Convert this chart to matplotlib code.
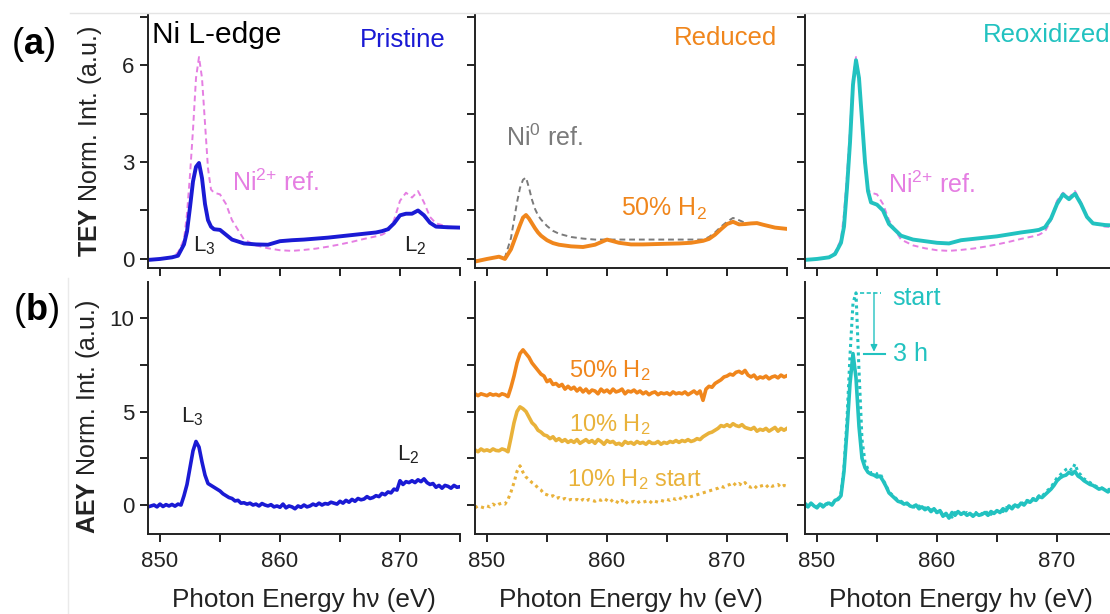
import numpy as np
import matplotlib
matplotlib.use("Agg")
import matplotlib.pyplot as plt
from matplotlib.ticker import MultipleLocator
from matplotlib.lines import Line2D

plt.rcParams["font.family"] = ["Liberation Sans", "DejaVu Sans"]
plt.rcParams["mathtext.fontset"] = "custom"
plt.rcParams["mathtext.rm"] = "Liberation Sans"
plt.rcParams["mathtext.it"] = "Liberation Sans:italic"
plt.rcParams["mathtext.bf"] = "Liberation Sans:bold"

# ---------------- TEY spectra (Ni L-edge) ----------------
energy_tey = [849.0, 850.0, 851.0, 851.5, 852.0, 852.25, 852.5, 852.75, 853.0, 853.25,
              853.5, 853.75, 854.0, 854.25, 854.5, 855.0, 855.5, 856.0, 857.0, 858.0,
              859.0, 860.0, 861.0, 862.0, 863.0, 864.0, 865.0, 866.0, 867.0, 868.0,
              868.5, 869.0, 869.5, 870.0, 870.5, 871.0, 871.5, 872.0, 872.5, 873.0,
              874.0, 875.0]

tey_pristine = [-0.03, 0.0, 0.05, 0.1, 0.45, 0.85, 1.6, 2.4, 2.85, 2.97,
                2.5, 1.7, 1.2, 1.0, 0.92, 0.9, 0.75, 0.6, 0.48, 0.45,
                0.44, 0.55, 0.58, 0.6, 0.63, 0.66, 0.7, 0.74, 0.78, 0.82,
                0.86, 0.92, 1.1, 1.35, 1.4, 1.4, 1.5, 1.35, 1.12, 1.0,
                0.98, 0.97]

tey_ni2_ref = [0.0, 0.0, 0.05, 0.2, 0.6, 1.4, 2.6, 4.0, 5.6, 6.25,
               5.6, 4.2, 2.8, 2.15, 2.05, 2.0, 1.7, 1.2, 0.6, 0.42,
               0.33, 0.27, 0.25, 0.28, 0.32, 0.38, 0.45, 0.53, 0.62, 0.7,
               0.75, 0.85, 1.2, 1.8, 2.05, 1.9, 2.1, 1.75, 1.3, 1.1,
               1.0, 0.98]

tey_reduced = [-0.08, 0.0, 0.07, 0.0, 0.3, 0.55, 0.8, 1.05, 1.28, 1.36,
               1.25, 1.1, 0.95, 0.82, 0.72, 0.58, 0.49, 0.44, 0.39, 0.37,
               0.44, 0.6, 0.5, 0.45, 0.45, 0.46, 0.47, 0.48, 0.5, 0.56,
               0.62, 0.75, 0.92, 1.08, 1.15, 1.07, 1.08, 1.1, 1.11, 1.06,
               0.97, 0.93]

tey_ni0_ref = [-0.05, 0.0, 0.07, 0.05, 0.65, 1.2, 1.75, 2.2, 2.45, 2.52,
               2.2, 1.83, 1.55, 1.35, 1.22, 1.02, 0.87, 0.78, 0.68, 0.63,
               0.6, 0.6, 0.6, 0.6, 0.6, 0.6, 0.6, 0.6, 0.6, 0.6,
               0.68, 0.82, 1.0, 1.15, 1.27, 1.2, 1.12, 1.1, 1.1, 1.05,
               0.97, 0.93]

tey_reoxidized = [-0.03, 0.0, 0.05, 0.15, 0.5, 1.0, 2.2, 3.6, 5.4, 6.15,
                  5.6, 4.3, 3.0, 2.1, 1.75, 1.68, 1.5, 1.08, 0.72, 0.6,
                  0.55, 0.5, 0.48, 0.58, 0.62, 0.66, 0.7, 0.76, 0.82, 0.87,
                  0.9, 0.98, 1.25, 1.7, 2.0, 1.85, 2.02, 1.7, 1.3, 1.1,
                  1.05, 1.03]

# ---------------- AEY spectra, 0.25 eV steps from 849 to 875 eV ----------------
energy_aey = np.arange(849.0, 875.001, 0.25)

aey_pristine = [
    -0.10, -0.05, 0.00, -0.10,   0.05, -0.08, 0.02, -0.05,   0.03, -0.06, 0.05, 0.00,
    0.50, 1.10, 2.00, 2.90,      3.40, 3.10, 2.30, 1.60,      1.15, 1.05, 0.95, 0.85,
    0.75, 0.60, 0.50, 0.40,      0.35, 0.22, 0.25, 0.10,      0.12, 0.05, 0.10, 0.00,
    0.05, -0.05, 0.08, 0.00,     -0.05, 0.02, -0.10, -0.05,   -0.12, 0.05, -0.15, -0.05,
    -0.10, -0.20, -0.05, -0.12,  0.00, -0.10, -0.05, 0.05,    -0.02, 0.10, 0.00, 0.08,
    0.05, 0.15, 0.10, 0.05,      0.20, 0.10, 0.25, 0.15,      0.30, 0.20, 0.35, 0.28,
    0.32, 0.45, 0.35, 0.40,      0.50, 0.45, 0.62, 0.55,      0.70, 0.65, 0.85, 0.80,
    1.30, 1.10, 1.25, 1.20,      1.30, 1.20, 1.35, 1.25,      1.40, 1.20, 1.10, 1.15,
    0.95, 1.05, 0.90, 1.05,      1.00, 0.90, 1.05, 0.95,      0.98]

aey_h2_50 = [
    5.95, 5.85, 5.95, 5.90,   5.85, 5.95, 5.88, 5.92,   5.85, 5.95, 5.90, 5.80,
    6.30, 6.90, 7.60, 8.10,   8.30, 8.10, 7.90, 7.60,   7.40, 7.20, 7.00, 6.90,
    6.60, 6.70, 6.45, 6.50,   6.35, 6.45, 6.20, 6.35,   6.20, 6.30, 6.10, 6.25,
    6.05, 6.20, 6.00, 6.15,   6.10, 5.95, 6.20, 6.05,   6.15, 6.00, 6.20, 6.05,
    6.10, 6.20, 5.95, 6.10,   6.05, 6.15, 6.00, 6.10,   5.95, 6.05, 5.90, 6.00,
    6.05, 5.90, 6.00, 5.95,   6.00, 5.90, 6.05, 5.95,   6.00, 5.95, 6.05, 5.90,
    6.00, 6.10, 5.95, 6.10,   5.60, 6.20, 6.35, 6.30,   6.50, 6.60, 6.70, 6.85,
    6.90, 7.00, 6.95, 7.10,   7.15, 7.05, 7.20, 6.95,   6.85, 6.95, 6.75, 6.85,
    6.80, 6.90, 6.75, 6.85,   6.90, 6.80, 6.95, 6.85,   6.92]

aey_h2_10 = [
    2.95, 2.85, 3.00, 2.90,   2.95, 2.88, 3.00, 2.92,   2.90, 3.00, 2.95, 2.85,
    3.60, 4.40, 5.00, 5.25,   5.15, 5.00, 4.70, 4.40,   4.25, 4.00, 3.90, 3.75,
    3.70, 3.55, 3.65, 3.45,   3.55, 3.40, 3.50, 3.35,   3.45, 3.35, 3.50, 3.30,
    3.40, 3.50, 3.35, 3.45,   3.30, 3.50, 3.40, 3.25,   3.45, 3.35, 3.40, 3.25,
    3.30, 3.20, 3.40, 3.30,   3.35, 3.25, 3.40, 3.30,   3.35, 3.25, 3.40, 3.30,
    3.30, 3.40, 3.25, 3.35,   3.30, 3.40, 3.35, 3.45,   3.35, 3.45, 3.40, 3.50,
    3.40, 3.45, 3.55, 3.50,   3.65, 3.75, 3.85, 3.90,   4.00, 4.10, 4.25, 4.20,
    4.30, 4.20, 4.35, 4.25,   4.20, 4.30, 4.15, 4.10,   4.05, 4.15, 3.95, 4.05,
    4.00, 4.10, 3.95, 4.05,   4.15, 3.95, 4.10, 4.00,   4.10]

aey_h2_10_start = [
    -0.15, -0.05, -0.10, -0.15,   -0.05, -0.10, 0.05, -0.05,   0.05, 0.10, 0.05, 0.30,
    0.70, 1.20, 1.80, 2.10,       1.75, 1.50, 1.35, 1.20,      1.10, 0.90, 0.80, 0.60,
    0.55, 0.45, 0.50, 0.35,       0.40, 0.30, 0.35, 0.25,      0.30, 0.25, 0.30, 0.20,
    0.30, 0.20, 0.30, 0.25,       0.20, 0.30, 0.25, 0.35,      0.25, 0.15, 0.30, 0.20,
    0.10, 0.25, 0.05, 0.20,       0.15, 0.20, 0.10, 0.20,      0.15, 0.20, 0.25, 0.10,
    0.20, 0.15, 0.25, 0.20,       0.30, 0.25, 0.35, 0.30,      0.40, 0.30, 0.45, 0.35,
    0.45, 0.50, 0.55, 0.60,       0.65, 0.70, 0.75, 0.80,      0.85, 0.90, 1.00, 0.95,
    1.05, 1.10, 1.20, 1.05,       1.15, 1.05, 1.20, 1.00,      0.95, 1.05, 0.90, 1.00,
    1.05, 0.95, 1.10, 1.00,       1.05, 1.10, 0.95, 1.05,      1.00]

aey_reox_start = [
    0.10, -0.05, 0.05, 0.00,    -0.10, 0.10, -0.05, 0.00,   0.15, 0.05, 0.20, 0.35,
    0.60, 2.00, 4.60, 8.00,     10.80, 11.35, 7.20, 3.50,   2.30, 1.90, 1.70, 1.75,
    1.65, 1.70, 1.35, 1.05,     0.70, 0.55, 0.40, 0.25,     0.20, 0.10, 0.05, 0.00,
    -0.05, -0.15, -0.05, -0.20, -0.15, -0.30, -0.25, -0.40, -0.35, -0.50, -0.40, -0.55,
    -0.45, -0.65, -0.40, -0.50, -0.45, -0.60, -0.40, -0.50, -0.55, -0.40, -0.60, -0.45,
    -0.50, -0.35, -0.50, -0.30, -0.35, -0.25, -0.35, -0.15, -0.10, -0.15, 0.05, -0.05,
    0.15, 0.05, 0.25, 0.20,     0.35, 0.30, 0.50, 0.45,     0.65, 0.80, 0.95, 1.20,
    1.45, 1.60, 1.75, 1.90,     2.00, 1.85, 2.20, 1.75,     1.60, 1.40, 1.30, 1.20,
    1.10, 1.00, 0.95, 0.90,     0.85, 0.80, 0.90, 0.80,     0.85]

aey_reox_3h = [
    0.00, -0.10, 0.10, -0.05,   -0.15, 0.05, -0.10, 0.05,   0.10, 0.00, 0.25, 0.30,
    0.50, 1.80, 4.00, 6.50,     8.10, 6.80, 4.20, 2.50,     2.00, 1.75, 1.65, 1.60,
    1.50, 1.55, 1.30, 1.00,     0.65, 0.50, 0.35, 0.20,     0.15, 0.05, 0.10, -0.05,
    -0.10, 0.00, -0.20, -0.10,  -0.25, -0.15, -0.35, -0.20, -0.40, -0.30, -0.60, -0.45,
    -0.70, -0.40, -0.55, -0.35, -0.50, -0.40, -0.55, -0.45, -0.60, -0.45, -0.55, -0.50,
    -0.40, -0.55, -0.35, -0.45, -0.30, -0.40, -0.20, -0.30, -0.05, -0.20, 0.00, -0.10,
    0.10, 0.00, 0.20, 0.15,     0.30, 0.25, 0.45, 0.40,     0.55, 0.70, 0.85, 1.05,
    1.30, 1.45, 1.55, 1.60,     1.75, 1.65, 1.80, 1.55,     1.45, 1.30, 1.20, 1.10,
    1.05, 0.95, 0.85, 0.90,     0.80, 0.70, 0.85, 0.75,     0.80]

# ---------------- colours ----------------
BLUE = "#1a1ad4"
ORANGE = "#f0861c"
GOLD = "#e9b23a"
CYAN = "#22c2c0"
PINK = "#e57ee2"
GREY = "#7a7a7a"
INK = "#222222"

W, H = 1110, 614
fig = plt.figure(figsize=(W / 100, H / 100), dpi=100)
fig.patch.set_facecolor("white")


def add_axes_px(left, top, right, bottom):
    return fig.add_axes([left / W, 1 - bottom / H, (right - left) / W, (bottom - top) / H])


def style(ax, ylim, ymajor, show_xlabels, show_ylabels):
    ax.set_xlim(849.0, 875.0)
    ax.set_ylim(*ylim)
    for side in ("top", "right"):
        ax.spines[side].set_visible(False)
    for side in ("left", "bottom"):
        ax.spines[side].set_linewidth(1.4)
        ax.spines[side].set_color(INK)
    ax.xaxis.set_major_locator(MultipleLocator(10))
    ax.xaxis.set_minor_locator(MultipleLocator(5))
    ax.yaxis.set_major_locator(MultipleLocator(ymajor))
    ax.yaxis.set_minor_locator(MultipleLocator(ymajor / 2))
    ax.tick_params(which="both", direction="out", length=6, width=1.4,
                   color=INK, labelsize=16, labelcolor=INK)
    ax.tick_params(axis="x", pad=6)
    ax.tick_params(axis="y", pad=4)
    ax.tick_params(labelbottom=show_xlabels, labelleft=show_ylabels)
    ax.set_facecolor("none")


cols = [(148, 460), (475, 787), (805, 1117)]
TOP = (15, 268)
BOT = (282, 534)
TEY_LIM = (-0.28, 7.55)
AEY_LIM = (-1.55, 11.93)

ax_a = [add_axes_px(l, TOP[0], r, TOP[1]) for l, r in cols]
ax_b = [add_axes_px(l, BOT[0], r, BOT[1]) for l, r in cols]

for i, ax in enumerate(ax_a):
    style(ax, TEY_LIM, 3, False, i == 0)
for i, ax in enumerate(ax_b):
    style(ax, AEY_LIM, 5, True, i == 0)

LW = 2.8
dash = (0, (3, 2))
NI2 = "Ni$^{2{+}}$ ref."

# (a) pristine
ax = ax_a[0]
ax.plot(energy_tey, tey_ni2_ref, color=PINK, lw=1.4, ls=dash)
ax.plot(energy_tey, tey_pristine, color=BLUE, lw=LW, solid_joinstyle="round")
ax.text(849.3, 6.93, "Ni L-edge", fontsize=21.5, color="black", ha="left", va="center")
ax.text(870.2, 6.78, "Pristine", fontsize=18.5, color=BLUE, ha="center", va="center")
ax.text(856.0, 2.35, NI2, fontsize=18, color=PINK, ha="left", va="center")
ax.text(853.7, 0.42, "L$_3$", fontsize=16, color=INK, ha="center", va="center")
ax.text(871.3, 0.42, "L$_2$", fontsize=16, color=INK, ha="center", va="center")

# (a) reduced
ax = ax_a[1]
ax.plot(energy_tey, tey_ni0_ref, color=GREY, lw=1.4, ls=dash)
ax.plot(energy_tey, tey_reduced, color=ORANGE, lw=LW, solid_joinstyle="round")
ax.text(874.2, 6.84, "Reduced", fontsize=18.5, color=ORANGE, ha="right", va="center")
ax.text(851.6, 3.75, "Ni$^{0}$ ref.", fontsize=18, color=GREY, ha="left", va="center")
ax.text(861.2, 1.55, "50% H$_2$", fontsize=18, color=ORANGE, ha="left", va="center")

# (a) reoxidized
ax = ax_a[2]
ax.plot(energy_tey, tey_ni2_ref, color=PINK, lw=1.4, ls=dash)
ax.plot(energy_tey, tey_reoxidized, color=CYAN, lw=LW, solid_joinstyle="round")
ax.text(863.8, 6.93, "Reoxidized", fontsize=18.5, color=CYAN, ha="left", va="center")
ax.text(855.9, 2.3, NI2, fontsize=18, color=PINK, ha="left", va="center")

# (b) pristine
ax = ax_b[0]
ax.plot(energy_aey, aey_pristine, color=BLUE, lw=2.6, solid_joinstyle="round")
ax.text(852.7, 4.7, "L$_3$", fontsize=16, color=INK, ha="center", va="center")
ax.text(870.7, 2.7, "L$_2$", fontsize=16, color=INK, ha="center", va="center")

# (b) reduced
ax = ax_b[1]
ax.plot(energy_aey, aey_h2_10_start, color=GOLD, lw=2.2, ls=(0, (1, 1.2)))
ax.plot(energy_aey, aey_h2_10, color=GOLD, lw=2.6, solid_joinstyle="round")
ax.plot(energy_aey, aey_h2_50, color=ORANGE, lw=2.6, solid_joinstyle="round")
ax.text(856.8, 7.2, "50% H$_2$", fontsize=17, color=ORANGE, ha="left", va="center")
ax.text(856.8, 4.28, "10% H$_2$", fontsize=17, color=GOLD, ha="left", va="center")
ax.text(856.7, 1.34, "10% H$_2$ start", fontsize=17, color=GOLD, ha="left", va="center")

# (b) reoxidized, beam exposure from start to 3 h
ax = ax_b[2]
ax.plot(energy_aey, aey_reox_start, color=CYAN, lw=2.2, ls=(0, (1, 1.2)))
ax.plot(energy_aey, aey_reox_3h, color=CYAN, lw=2.6, solid_joinstyle="round")
y_start = max(aey_reox_start)
y_3h = max(aey_reox_3h)
ax.plot([853.6, 855.3], [y_start, y_start], color=CYAN, lw=1.2, ls=(0, (2.5, 1.5)))
ax.plot([853.9, 855.7], [y_3h, y_3h], color=CYAN, lw=1.5)
ax.annotate("", xy=(854.75, y_3h + 0.1), xytext=(854.75, y_start),
            arrowprops=dict(arrowstyle="-|>", color=CYAN, lw=1.0, mutation_scale=10,
                            shrinkA=0, shrinkB=0))
ax.text(856.3, y_start - 0.25, "start", fontsize=18, color=CYAN, ha="left", va="center")
ax.text(856.3, y_3h, "3 h", fontsize=18, color=CYAN, ha="left", va="center")


def fig_text(px, py, s, **kw):
    fig.text(px / W, 1 - py / H, s, **kw)


# axis titles
fig_text(90, 141, r"$\mathbf{TEY}$ Norm. Int. (a.u.)", rotation=90, fontsize=18,
         ha="center", va="center", color=INK)
fig_text(88, 417, r"$\mathbf{AEY}$ Norm. Int. (a.u.)", rotation=90, fontsize=18,
         ha="center", va="center", color=INK)
for l, r in cols:
    fig_text((l + r) / 2, 600, "Photon Energy h\u03bd (eV)", fontsize=18.8,
             ha="center", va="center", color=INK)

# panel letters
fig_text(33, 44, r"($\mathbf{a}$)", fontsize=26, ha="center", va="center")
fig_text(36, 310, r"($\mathbf{b}$)", fontsize=26, ha="center", va="center")

# thin frame edges of the figure block
fig.add_artist(Line2D([70 / W, 1.0], [1 - 13 / H, 1 - 13 / H], color="#e4e4e4", lw=1.0))
fig.add_artist(Line2D([68 / W, 68 / W], [1 - 278 / H, 0.0], color="#eaeaea", lw=1.0))

fig.savefig("out.png", dpi=100, facecolor="white")
